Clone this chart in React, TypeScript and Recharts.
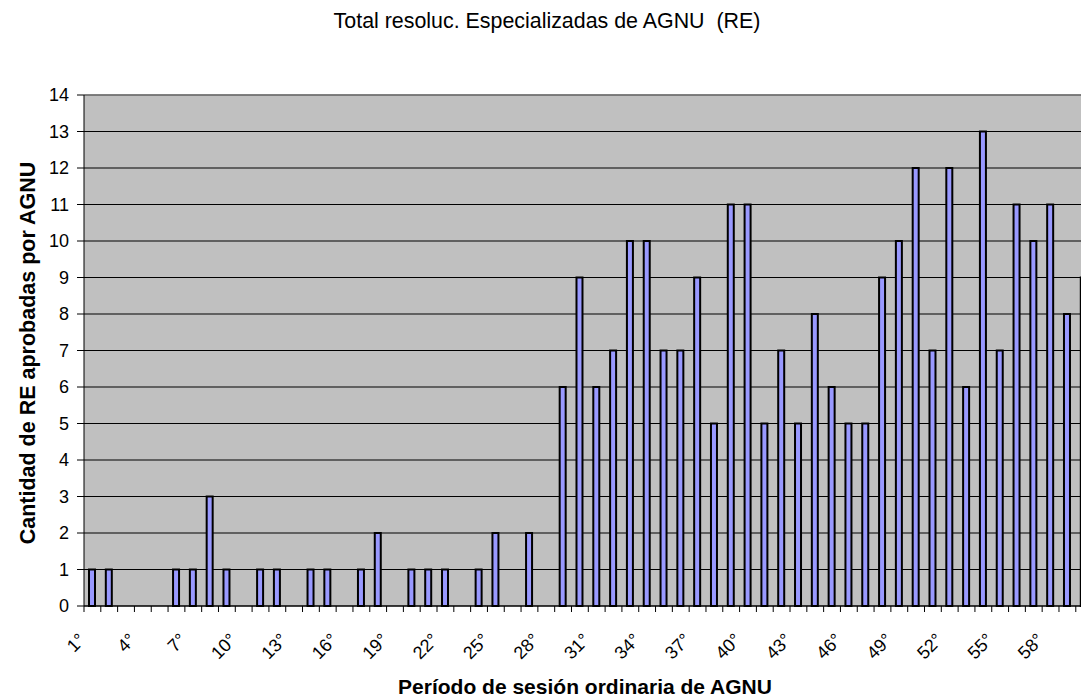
import React from 'react';
import { BarChart, Bar, XAxis, YAxis, CartesianGrid, ReferenceLine } from 'recharts';

const categories: string[] = [
  '1°', '2°', '3°', '4°', '5°', '6°', '7°', '8°', '9°', '10°',
  '11°', '12°', '13°', '14°', '15°', '16°', '17°', '18°', '19°', '20°',
  '21°', '22°', '23°', '24°', '25°', '26°', '27°', '28°', '29°', '30°',
  '31°', '32°', '33°', '34°', '35°', '36°', '37°', '38°', '39°', '40°',
  '41°', '42°', '43°', '44°', '45°', '46°', '47°', '48°', '49°', '50°',
  '51°', '52°', '53°', '54°', '55°', '56°', '57°', '58°', '59°', '60°',
];

const resoluciones: number[] = [
  1, 1, 0, 0, 0, 1, 1, 3, 1, 0,
  1, 1, 0, 1, 1, 0, 1, 2, 0, 1,
  1, 1, 0, 1, 2, 0, 2, 0, 6, 9,
  6, 7, 10, 10, 7, 7, 9, 5, 11, 11,
  5, 7, 5, 8, 6, 5, 5, 9, 10, 12,
  7, 12, 6, 13, 7, 11, 10, 11, 8, 9,
];

const yTicks: number[] = [0, 1, 2, 3, 4, 5, 6, 7, 8, 9, 10, 11, 12, 13, 14];

const labeledCategories: string[] = [
  '1°', '4°', '7°', '10°', '13°', '16°', '19°', '22°', '25°', '28°',
  '31°', '34°', '37°', '40°', '43°', '46°', '49°', '52°', '55°', '58°',
];

const title = 'Total resoluc. Especializadas de AGNU  (RE)';
const xTitle = 'Período de sesión ordinaria de AGNU';
const yTitle = 'Cantidad de RE aprobadas por AGNU';

const data = categories.map((c, i) => ({ name: c, value: resoluciones[i] }));

const FONT = '"Liberation Sans", Arial, sans-serif';
const CHART_W = 1100;
const CHART_H = 697;
const MARGIN = { top: 95, right: 7.4, left: 24, bottom: 0 };
const Y_AXIS_W = 60;
const PLOT_W = CHART_W - MARGIN.left - MARGIN.right - Y_AXIS_W;
const BAND = PLOT_W / categories.length;

const XTick = (props: any) => {
  const { x, y, payload } = props;
  const left = x - BAND / 2;
  const show = labeledCategories.includes(payload.value);
  const ax = x - 6;
  const ay = y + 35;
  return (
    <g>
      <line x1={left} x2={left} y1={y} y2={y + 6} stroke="#000" strokeWidth={1} />
      {show && (
        <text
          x={ax}
          y={ay}
          transform={`rotate(-45 ${ax} ${ay})`}
          textAnchor="end"
          fontSize={18}
          fontFamily={FONT}
          fill="#000"
        >
          {payload.value}
        </text>
      )}
    </g>
  );
};

const YTitle = () => (
  <text
    x={35}
    y={353}
    transform={`rotate(-90 35 353)`}
    textAnchor="middle"
    fontSize={21.5}
    fontWeight="bold"
    fontFamily={FONT}
    fill="#000"
  >
    {yTitle}
  </text>
);

const XTitle = () => (
  <text
    x={585}
    y={694}
    textAnchor="middle"
    fontSize={21}
    fontWeight="bold"
    fontFamily={FONT}
    fill="#000"
  >
    {xTitle}
  </text>
);

export default function App() {
  return (
    <div
      style={{
        position: 'fixed',
        left: 0,
        top: 0,
        width: 1081,
        height: 697,
        overflow: 'hidden',
        background: '#fff',
      }}
    >
      <div
        style={{
          position: 'absolute',
          left: 0,
          top: 11,
          width: 1094,
          textAlign: 'center',
          fontFamily: FONT,
          fontSize: 21.4,
          lineHeight: '21px',
          whiteSpace: 'pre',
          color: '#000',
          zIndex: 2,
        }}
      >
        {title}
      </div>
      <BarChart width={CHART_W} height={CHART_H} data={data} margin={MARGIN}>
        <CartesianGrid vertical={false} stroke="#000" strokeWidth={1} fill="#C0C0C0" fillOpacity={1} />
        <ReferenceLine y={14} stroke="#808080" strokeWidth={1.5} />
        <XAxis
          dataKey="name"
          interval={0}
          tickLine={false}
          tickSize={0}
          tickMargin={0}
          height={91}
          axisLine={{ stroke: '#000', strokeWidth: 1 }}
          tick={<XTick />}
          label={<XTitle />}
        />
        <YAxis
          width={Y_AXIS_W}
          domain={[0, 14]}
          ticks={yTicks}
          interval={0}
          allowDecimals={false}
          tickSize={7}
          tickMargin={8}
          axisLine={{ stroke: '#000', strokeWidth: 1 }}
          tickLine={{ stroke: '#000', strokeWidth: 1 }}
          tick={{ fontSize: 18, fontFamily: FONT, fill: '#000' }}
          label={<YTitle />}
        />
        <Bar
          dataKey="value"
          fill="#9999FF"
          stroke="#000"
          strokeWidth={2}
          barSize={6}
          isAnimationActive={false}
        />
      </BarChart>
    </div>
  );
}
